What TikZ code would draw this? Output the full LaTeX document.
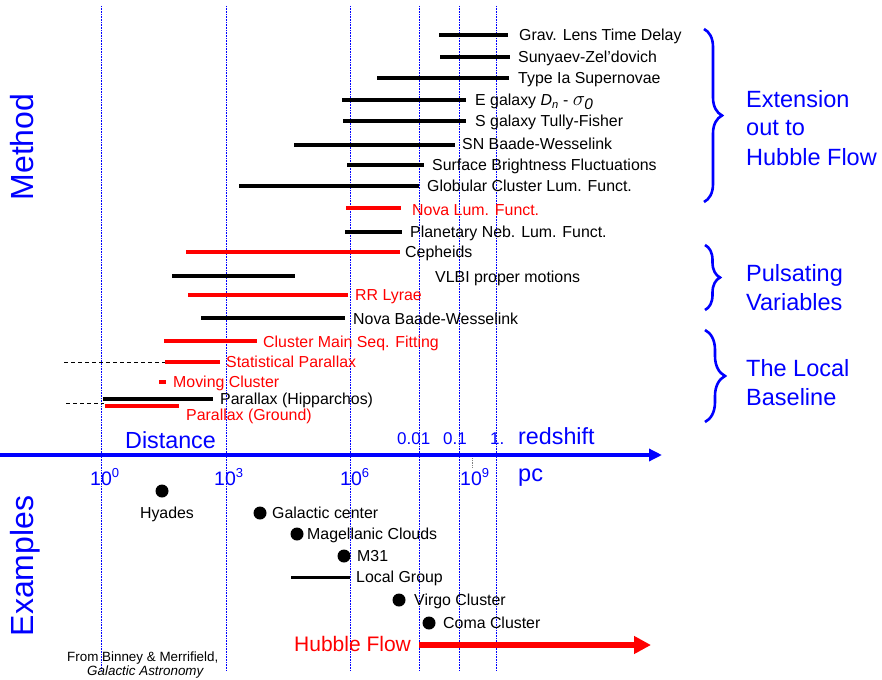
\documentclass[tikz,border=0pt]{standalone}
\usepackage{fontspec}
\setmainfont{Liberation Sans}
\usetikzlibrary{arrows.meta,decorations.pathreplacing}
\newcommand{\supnum}[1]{\raisebox{7.7pt}{\fontsize{13}{13}\selectfont #1}}
\begin{document}
\begin{tikzpicture}[x=1pt,y=-1pt,
  vline/.style={blue, line width=0.6pt, densely dotted},
  bar/.style={line width=3.3pt},
  rbar/.style={line width=3.3pt, red},
  dsh/.style={line width=1pt, dash pattern=on 4pt off 3pt},
  lbl/.style={anchor=west, inner sep=0pt, text height=11.4pt, text depth=0pt, font=\fontsize{15.9}{16}\selectfont},
  rlbl/.style={lbl, text=red},
  big/.style={anchor=base west, inner sep=0pt, text=blue, font=\fontsize{23.5}{24}\selectfont},
  ticklbl/.style={anchor=base west, inner sep=0pt, text=blue, font=\fontsize{19.5}{20}\selectfont},
  zlbl/.style={anchor=base west, inner sep=0pt, text=blue, font=\fontsize{17}{18}\selectfont},
  dotnode/.style={fill=black, circle, inner sep=0pt, minimum size=13pt},
  brc/.style={blue, line width=2.6pt, decorate, decoration={brace, amplitude=#1}},
  sidelbl/.style={anchor=center, inner sep=0pt, text=blue, rotate=90, text height=22.6pt, text depth=0pt, font=\fontsize{32}{32}\selectfont},
]
\useasboundingbox (0,0) rectangle (882,679);

% vertical dotted guide lines
\foreach \xx in {101,226,350,419,459,496}
  \draw[vline] (\xx,6) -- (\xx,671);
\draw[gray, line width=0.7pt, densely dotted] (472,453) -- (472,467);

% distance axis
\draw[blue, line width=4pt, -{Triangle[length=13pt,width=12pt]}] (0,455) -- (662,455);

% side titles
\node[sidelbl] (method) at (22,147) {Method};
\node[sidelbl] (examples) at (22,566) {Examples};

% methods
\draw[bar] (439,35) -- (508,35);
\node[lbl] (grav) at (519,35) {Grav. Lens Time Delay};
\draw[bar] (440,57) -- (510,57);
\node[lbl] (sz) at (518,57) {Sunyaev-Zel’dovich};
\draw[bar] (377,78) -- (509,78);
\node[lbl] (snia) at (518,78) {Type Ia Supernovae};
\draw[bar] (342,100) -- (466,100);
\node[lbl] (egal) at (475,100) {E galaxy \textit{D}\textsubscript{\textit{n}} - {\fontsize{22}{22}\selectfont$\sigma_{\mathit{0}}$}};
\draw[bar] (343,121) -- (466,121);
\node[lbl] (sgal) at (475,121) {S galaxy Tully-Fisher};
\draw[bar] (294,145) -- (455,145);
\node[lbl] (snbw) at (462,144) {SN Baade-Wesselink};
\draw[bar] (347,165) -- (424,165);
\node[lbl] (sbf) at (432,165) {Surface Brightness Fluctuations};
\draw[bar] (239,186) -- (419,186);
\node[lbl] (gclf) at (427,186) {Globular Cluster Lum. Funct.};
\draw[rbar] (346,208) -- (401,208);
\node[rlbl] (nlf) at (412,210) {Nova Lum. Funct.};
\draw[bar] (345,232) -- (402,232);
\node[lbl] (pnlf) at (410,232) {Planetary Neb. Lum. Funct.};
\draw[rbar] (186,252) -- (400,252);
\node[lbl] (ceph) at (405,252) {Cepheids};
\draw[bar] (172,276) -- (295,276);
\node[lbl] (vlbi) at (435,277) {VLBI proper motions};
\draw[rbar] (188,295) -- (348,295);
\node[rlbl] (rrl) at (355,295) {RR Lyrae};
\draw[bar] (201,318) -- (345,318);
\node[lbl] (nbw) at (353,319) {Nova Baade-Wesselink};
\draw[rbar] (164,341) -- (257,341);
\node[rlbl] (cmsf) at (263,342) {Cluster Main Seq. Fitting};
\draw[dsh] (64,362) -- (165,362);
\draw[rbar] (165,362) -- (220,362);
\node[rlbl] (stp) at (226,362) {Statistical Parallax};
\draw[rbar] (159,382) -- (166,382);
\node[rlbl] (mvc) at (173,382) {Moving Cluster};
\draw[dsh] (66,403) -- (104,403);
\draw[bar] (103,399) -- (213,399);
\node[lbl] (phip) at (220,399) {Parallax (Hipparchos)};
\draw[rbar] (105,406) -- (179,406);
\node[rlbl] (pgr) at (186,415) {Parallax (Ground)};

% braces and group labels
\draw[brc=18pt] (704,29) -- (704,202);
\node[big] (g1a) at (746,108) {Extension};
\node[big] (g1b) at (746,136) {out to};
\node[big] (g1c) at (746,165) {Hubble Flow};
\draw[brc=15pt] (705,245) -- (705,310);
\node[big] (g2a) at (746,281) {Pulsating};
\node[big] (g2b) at (746,310) {Variables};
\draw[brc=20pt] (705,330) -- (705,422);
\node[big] (g3a) at (746,376) {The Local};
\node[big] (g3b) at (746,405) {Baseline};

% axis labels
\node[big, font=\fontsize{23.3}{24}\selectfont] (dist) at (125,448) {Distance};
\node[zlbl] (z1) at (397,444) {0.01};
\node[zlbl] (z2) at (443,444) {0.1};
\node[zlbl] (z3) at (490,444) {1.};
\node[big, font=\fontsize{23.3}{24}\selectfont] (zlab) at (518,444) {redshift};
\node[ticklbl] (t0) at (90,485) {10\supnum{0}};
\node[ticklbl] (t3) at (214,485) {10\supnum{3}};
\node[ticklbl] (t6) at (340,485) {10\supnum{6}};
\node[ticklbl] (t9) at (460,485) {10\supnum{9}};
\node[big] (pc) at (518,481) {pc};

% examples
\node[dotnode] (hyd) at (162,491) {};
\node[lbl, anchor=center] (hydl) at (167,513) {Hyades};
\node[dotnode] (gc) at (260,513) {};
\node[lbl] (gcl) at (272,513) {Galactic center};
\node[dotnode] (mc) at (297,534) {};
\node[lbl] (mcl) at (307,534) {Magellanic Clouds};
\node[dotnode] (m31) at (344,556) {};
\node[lbl] (m31l) at (357,556) {M31};
\draw[line width=3pt] (291,577) -- (350,577);
\node[lbl] (lgl) at (356,577) {Local Group};
\node[dotnode] (vir) at (399,600) {};
\node[lbl] (virl) at (414,600) {Virgo Cluster};
\node[dotnode] (com) at (429,623) {};
\node[lbl] (coml) at (443,623) {Coma Cluster};

% Hubble flow
\node[anchor=base west, inner sep=0pt, text=red, font=\fontsize{21}{22}\selectfont] (hf) at (294,651.5) {Hubble Flow};
\coordinate (hfs) at (419,645);
\coordinate (hfe) at (651,645);
\draw[red, line width=6pt, -{Triangle[length=17pt,width=17pt]}] (hfs) -- (hfe);

% credit
\node[anchor=base west, inner sep=0pt, font=\fontsize{13.4}{14}\selectfont] (cr1) at (67,661) {From Binney \& Merrifield,};
\node[anchor=base west, inner sep=0pt, font=\fontsize{13.4}{14}\itshape] (cr2) at (87,675) {Galactic Astronomy};
\end{tikzpicture}
\end{document}
